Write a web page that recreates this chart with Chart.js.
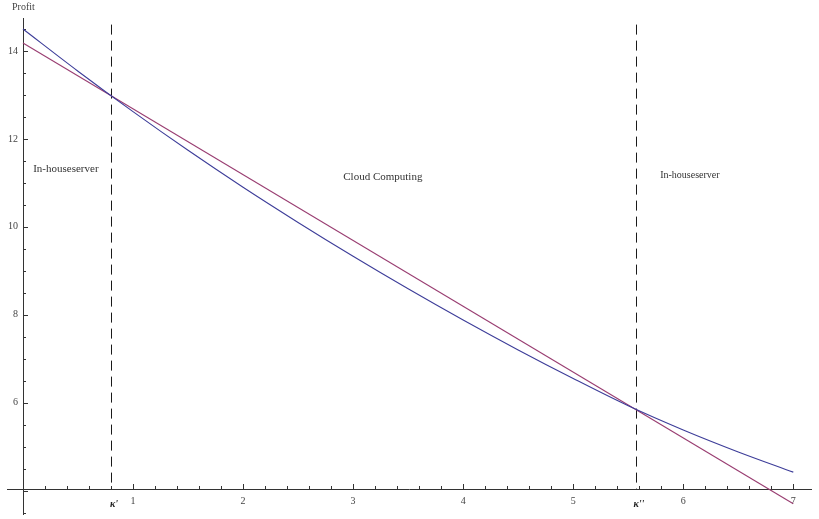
<!DOCTYPE html>
<html lang="en">
<head>
    <meta charset="UTF-8">
    <title>Profit vs kappa</title>
    <script src="https://cdn.jsdelivr.net/npm/chart.js"></script>
    <style>
        body { margin: 0; padding: 0; background: #fff; }
        #wrap { width: 819px; height: 519px; }
    </style>
</head>
<body>
    <div id="wrap"><canvas id="profitChart"></canvas></div>
    <script>
        // Blue curve (cloud profit)
        const kappaGrid = [0, 0.5, 1, 1.5, 2, 2.5, 3, 3.5, 4, 4.5, 5, 5.5, 6, 6.5, 7];
        const cloudProfit = [14.50, 13.54, 12.62, 11.74, 10.90, 10.10, 9.33, 8.59, 7.88, 7.20, 6.55, 5.93, 5.38, 4.88, 4.42];
        // Red line (in-house server profit), straight line
        const serverKappa = [0, 7];
        const serverProfit = [14.18, 3.70];
        // thresholds kappa' and kappa''
        const thresholds = [0.8, 5.57];
        const thresholdLabels = ["\u03BA'", "\u03BA''"];
        const xTicks = [1, 2, 3, 4, 5, 6, 7];
        const yTicks = [6, 8, 10, 12, 14];
        const regionNames = ['In-houseserver', 'Cloud Computing', 'In-houseserver'];

        const axisCross = 4.04; // y value where the x axis sits
        const dashTop = 14.6;

        const datasets = [
            {
                data: kappaGrid.map((k, i) => ({ x: k, y: cloudProfit[i] })),
                borderColor: '#3d3d99', borderWidth: 1.1, pointRadius: 0,
                cubicInterpolationMode: 'monotone'
            },
            {
                data: serverKappa.map((k, i) => ({ x: k, y: serverProfit[i] })),
                borderColor: '#993d71', borderWidth: 1.1, pointRadius: 0
            }
        ];

        const axesPlugin = {
            id: 'axes',
            beforeDatasetsDraw(chart) {
                const ctx = chart.ctx;
                const xs = chart.scales.x, ys = chart.scales.y;
                const x0 = Math.round(xs.getPixelForValue(0));
                const yAxis = Math.round(ys.getPixelForValue(axisCross));
                ctx.save();
                ctx.strokeStyle = '#333';
                ctx.lineWidth = 1;
                ctx.beginPath();
                ctx.moveTo(xs.left, yAxis + 0.5); ctx.lineTo(xs.right, yAxis + 0.5);
                ctx.moveTo(x0 + 0.5, ys.top); ctx.lineTo(x0 + 0.5, ys.bottom);
                // x ticks: major every 1, minor every 0.2
                for (let i = 1; i <= 35; i++) {
                    const px = Math.round(xs.getPixelForValue(i * 0.2)) + 0.5;
                    const len = (i % 5 === 0) ? 5 : 3;
                    ctx.moveTo(px, yAxis); ctx.lineTo(px, yAxis - len);
                }
                // y ticks: major every 2, minor every 0.5
                for (let v = 3.5; v <= 14.5; v += 0.5) {
                    const py = Math.round(ys.getPixelForValue(v)) + 0.5;
                    const len = (v % 2 === 0) ? 5 : 3;
                    ctx.moveTo(x0, py); ctx.lineTo(x0 + len, py);
                }
                ctx.stroke();

                // dashed threshold lines
                ctx.strokeStyle = '#1a1a1a';
                ctx.setLineDash([10, 6]);
                ctx.beginPath();
                thresholds.forEach(t => {
                    const px = Math.round(xs.getPixelForValue(t)) + 0.5;
                    ctx.moveTo(px, ys.getPixelForValue(dashTop));
                    ctx.lineTo(px, yAxis);
                });
                ctx.stroke();
                ctx.setLineDash([]);

                ctx.fillStyle = '#444';
                ctx.font = '10px "Liberation Serif", serif';
                ctx.textAlign = 'center';
                ctx.textBaseline = 'middle';
                xTicks.forEach(t => ctx.fillText(String(t), xs.getPixelForValue(t), yAxis + 12));
                ctx.textAlign = 'right';
                yTicks.forEach(t => ctx.fillText(String(t), x0 - 5, ys.getPixelForValue(t)));

                ctx.textAlign = 'left';
                ctx.fillText('Profit', 12, 7);

                ctx.fillStyle = '#222';
                ctx.font = 'italic bold 10px "Liberation Serif", serif';
                ctx.textAlign = 'center';
                thresholds.forEach((t, i) => ctx.fillText(thresholdLabels[i], xs.getPixelForValue(t) + 3, yAxis + 15));

                ctx.fillStyle = '#333';
                const regionX = [0.39, 3.27, 6.06];
                const regionY = [11.32, 11.13, 11.18];
                const regionSize = [11, 11, 10];
                regionNames.forEach((n, i) => {
                    ctx.font = regionSize[i] + 'px "Liberation Serif", serif';
                    ctx.fillText(n, xs.getPixelForValue(regionX[i]), ys.getPixelForValue(regionY[i]));
                });
                ctx.restore();
            }
        };

        new Chart(document.getElementById('profitChart'), {
            type: 'line',
            data: { datasets },
            options: {
                responsive: true,
                maintainAspectRatio: false,
                animation: false,
                layout: { padding: { left: 7, right: 7, top: 18, bottom: 4 } },
                plugins: { legend: { display: false }, tooltip: { enabled: false } },
                scales: {
                    x: { type: 'linear', min: -0.145, max: 7.17, display: false },
                    y: { type: 'linear', min: 3.445, max: 14.75, display: false }
                }
            },
            plugins: [axesPlugin]
        });
    </script>
</body>
</html>
